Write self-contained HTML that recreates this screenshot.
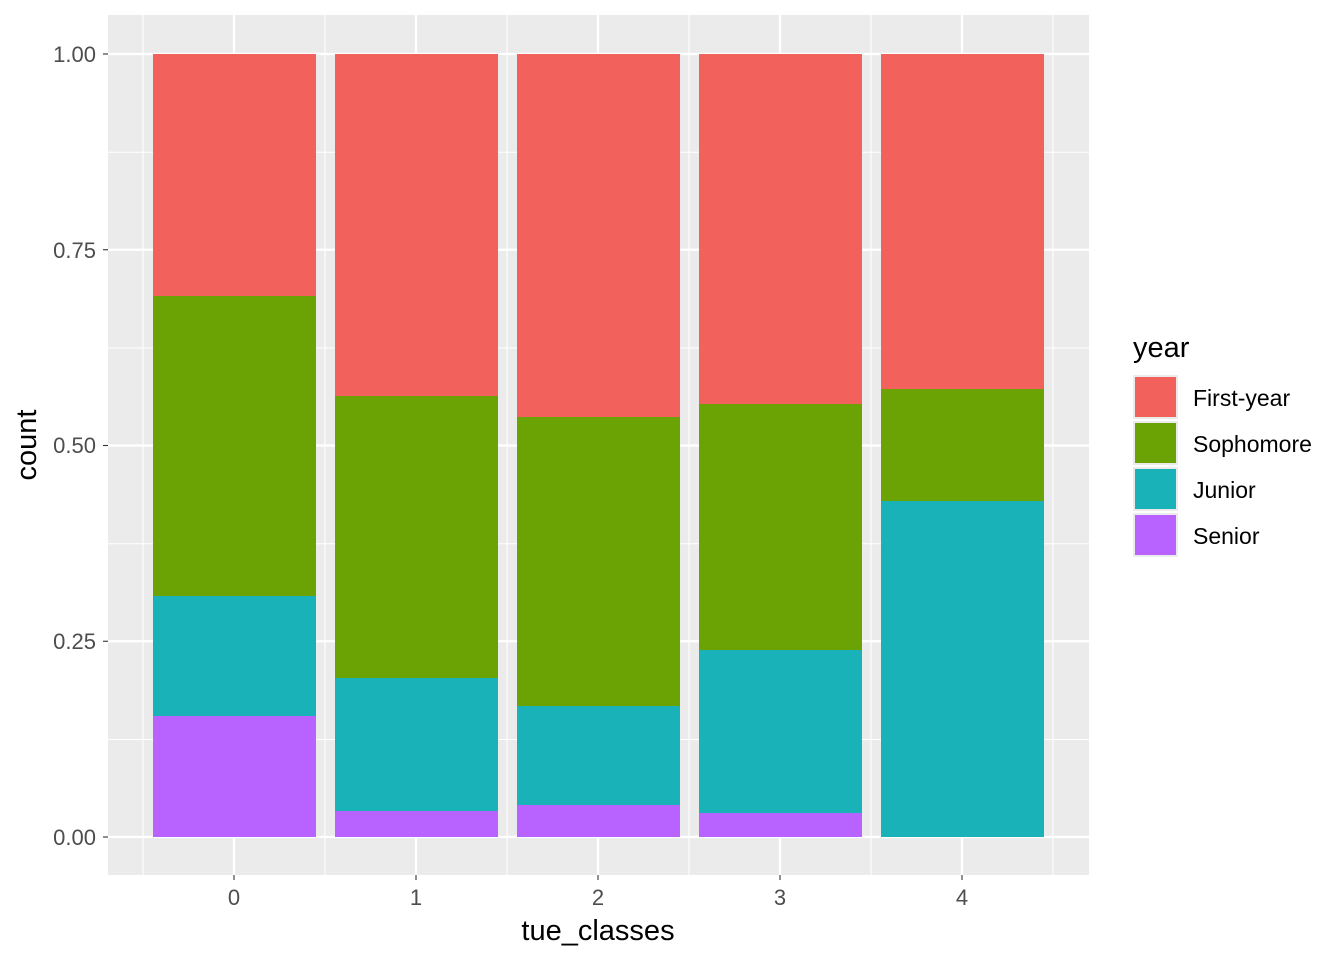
<!DOCTYPE html>
<html><head><meta charset="utf-8"><style>body{margin:0;background:#fff}</style></head><body>
<svg width="1344" height="960" xmlns="http://www.w3.org/2000/svg" font-family="Liberation Sans, sans-serif">
<rect x="108" y="15" width="981" height="860" fill="#EBEBEB"/>
<g stroke="#fff" stroke-width="1.1">
<line x1="108" x2="1089" y1="739.5" y2="739.5"/><line x1="108" x2="1089" y1="543.75" y2="543.75"/>
<line x1="108" x2="1089" y1="348" y2="348"/><line x1="108" x2="1089" y1="152.25" y2="152.25"/>
<line x1="143" x2="143" y1="15" y2="875"/><line x1="325" x2="325" y1="15" y2="875"/>
<line x1="507" x2="507" y1="15" y2="875"/><line x1="689" x2="689" y1="15" y2="875"/>
<line x1="871" x2="871" y1="15" y2="875"/><line x1="1053" x2="1053" y1="15" y2="875"/>
</g>
<g stroke="#fff" stroke-width="2.2">
<line x1="108" x2="1089" y1="837" y2="837"/><line x1="108" x2="1089" y1="641.25" y2="641.25"/>
<line x1="108" x2="1089" y1="445.5" y2="445.5"/><line x1="108" x2="1089" y1="249.75" y2="249.75"/>
<line x1="108" x2="1089" y1="54" y2="54"/>
<line x1="234" x2="234" y1="15" y2="875"/><line x1="416" x2="416" y1="15" y2="875"/>
<line x1="598" x2="598" y1="15" y2="875"/><line x1="780" x2="780" y1="15" y2="875"/>
<line x1="962" x2="962" y1="15" y2="875"/>
</g>
<g>
<rect x="153" y="54" width="163" height="242" fill="#F3615C"/>
<rect x="153" y="296" width="163" height="300" fill="#6BA304"/>
<rect x="153" y="596" width="163" height="120" fill="#19B2B8"/>
<rect x="153" y="716" width="163" height="121" fill="#B862FF"/>
<rect x="335" y="54" width="163" height="342" fill="#F3615C"/>
<rect x="335" y="396" width="163" height="282" fill="#6BA304"/>
<rect x="335" y="678" width="163" height="133" fill="#19B2B8"/>
<rect x="335" y="811" width="163" height="26" fill="#B862FF"/>
<rect x="517" y="54" width="163" height="363" fill="#F3615C"/>
<rect x="517" y="417" width="163" height="289" fill="#6BA304"/>
<rect x="517" y="706" width="163" height="99" fill="#19B2B8"/>
<rect x="517" y="805" width="163" height="32" fill="#B862FF"/>
<rect x="699" y="54" width="163" height="350" fill="#F3615C"/>
<rect x="699" y="404" width="163" height="246" fill="#6BA304"/>
<rect x="699" y="650" width="163" height="163" fill="#19B2B8"/>
<rect x="699" y="813" width="163" height="24" fill="#B862FF"/>
<rect x="881" y="54" width="163" height="335" fill="#F3615C"/>
<rect x="881" y="389" width="163" height="112" fill="#6BA304"/>
<rect x="881" y="501" width="163" height="336" fill="#19B2B8"/>
</g>
<g stroke="#333" stroke-width="1.1">
<line x1="103" x2="108" y1="837" y2="837"/><line x1="103" x2="108" y1="641.25" y2="641.25"/>
<line x1="103" x2="108" y1="445.5" y2="445.5"/><line x1="103" x2="108" y1="249.75" y2="249.75"/>
<line x1="103" x2="108" y1="54" y2="54"/>
<line x1="234" x2="234" y1="875" y2="880"/><line x1="416" x2="416" y1="875" y2="880"/>
<line x1="598" x2="598" y1="875" y2="880"/><line x1="780" x2="780" y1="875" y2="880"/>
<line x1="962" x2="962" y1="875" y2="880"/>
</g>
<g font-size="22" fill="#4D4D4D" text-anchor="end">
<text x="96" y="845">0.00</text><text x="96" y="649">0.25</text><text x="96" y="453">0.50</text>
<text x="96" y="258">0.75</text><text x="96" y="62">1.00</text>
</g>
<g font-size="22" fill="#4D4D4D" text-anchor="middle">
<text x="234" y="905">0</text><text x="416" y="905">1</text><text x="598" y="905">2</text>
<text x="780" y="905">3</text><text x="962" y="905">4</text>
</g>
<text x="598" y="940" font-size="29" text-anchor="middle" fill="#000">tue_classes</text>
<text transform="translate(36,445) rotate(-90)" font-size="29" text-anchor="middle" fill="#000">count</text>
<text x="1133" y="357" font-size="29" fill="#000">year</text>
<g stroke="#EBEBEB" stroke-width="2">
<rect x="1134" y="376" width="43" height="42" fill="#F3615C"/>
<rect x="1134" y="422" width="43" height="42" fill="#6BA304"/>
<rect x="1134" y="468" width="43" height="42" fill="#19B2B8"/>
<rect x="1134" y="514" width="43" height="42" fill="#B862FF"/>
</g>
<g font-size="23" fill="#000">
<text x="1193" y="406">First-year</text><text x="1193" y="452">Sophomore</text>
<text x="1193" y="498">Junior</text><text x="1193" y="544">Senior</text>
</g>
</svg>
</body></html>
